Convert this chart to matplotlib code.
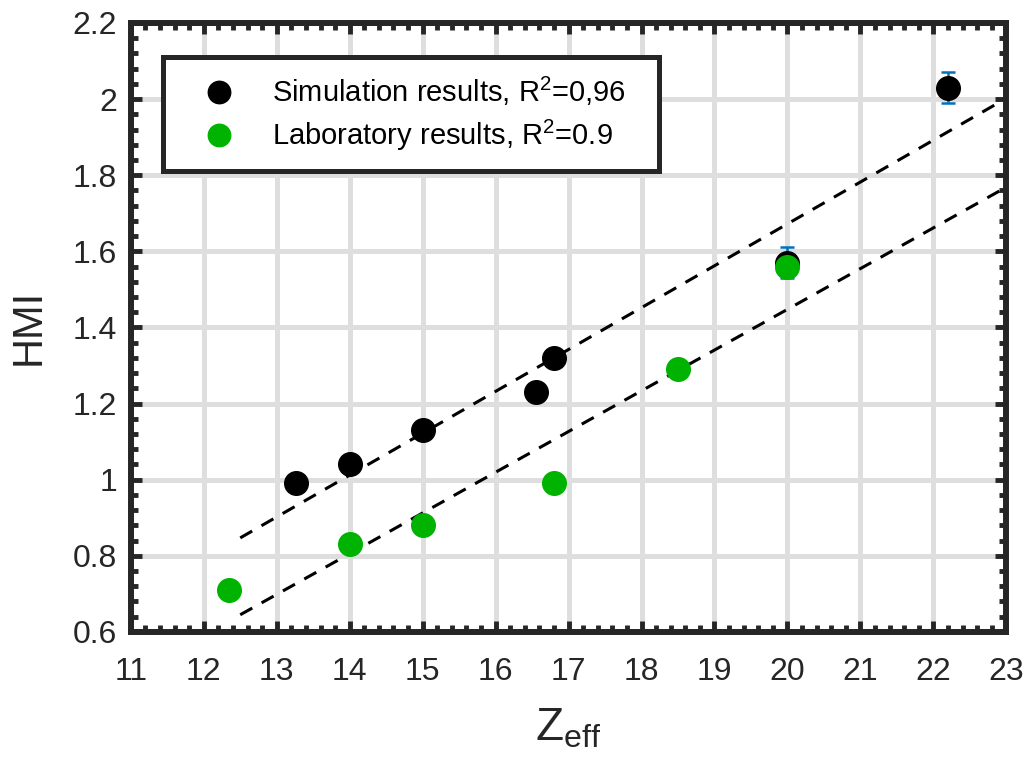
import numpy as np
import matplotlib
matplotlib.use('Agg')
import matplotlib.pyplot as plt

plt.rcParams['font.family'] = ['Liberation Sans', 'DejaVu Sans']
plt.rcParams['mathtext.fontset'] = 'custom'
plt.rcParams['mathtext.rm'] = 'Liberation Sans'
plt.rcParams['mathtext.it'] = 'Liberation Sans'

# data
sim_x   = [13.27, 14.0, 15.0, 16.55, 16.8, 20.0, 22.2]
sim_y   = [0.99, 1.04, 1.13, 1.23, 1.32, 1.57, 2.03]
sim_err = [0.0, 0.0, 0.0, 0.0, 0.0, 0.04, 0.04]

lab_x = [12.35, 14.0, 15.0, 16.8, 18.5, 20.0]
lab_y = [0.71, 0.83, 0.88, 0.99, 1.29, 1.56]

# linear fits (slope, intercept) and range
sim_fit = [0.110, -0.528]
lab_fit = [0.107, -0.6925]
fit_x   = [12.5, 23.0]

xticks = np.arange(11, 24, 1)
yticks = [0.6, 0.8, 1.0, 1.2, 1.4, 1.6, 1.8, 2.0, 2.2]
ylabels = ['0.6', '0.8', '1', '1.2', '1.4', '1.6', '1.8', '2', '2.2']

dark  = '#262626'
green = '#00b300'
blue  = '#0072bd'

fig = plt.figure(figsize=(10.3, 7.65), dpi=100)
ax = fig.add_axes([0.127, 0.174, 0.850, 0.796])

fx = np.array(fit_x)
ax.plot(fx, sim_fit[0]*fx + sim_fit[1], color='k', lw=2.2, ls=(0, (4.5, 3.5)), zorder=2)
ax.plot(fx, lab_fit[0]*fx + lab_fit[1], color='k', lw=2.2, ls=(0, (4.5, 3.5)), zorder=2)

ax.errorbar(sim_x, sim_y, yerr=sim_err, fmt='none', ecolor=blue, elinewidth=1.8,
            capsize=5, capthick=1.8, zorder=3)
ax.plot(sim_x, sim_y, 'o', color='k', ms=17, ls='none', zorder=4,
        label=r'Simulation results, R$^{2}$=0,96')
ax.plot(lab_x, lab_y, 'o', color=green, ms=17, ls='none', zorder=5,
        label=r'Laboratory results, R$^{2}$=0.9')

ax.set_xlim(11, 23)
ax.set_ylim(0.6, 2.2)
ax.set_xticks(xticks)
ax.set_yticks(yticks)
ax.set_yticklabels(ylabels)
ax.set_xticks(np.arange(11, 23.01, 0.2), minor=True)
ax.set_yticks(np.arange(0.6, 2.201, 0.04), minor=True)

ax.grid(True, which='major', color='#dedede', lw=3.6, zorder=0)
ax.set_axisbelow(True)

for s in ax.spines.values():
    s.set_linewidth(4.3)
    s.set_color(dark)
    s.set_zorder(6)

ax.tick_params(which='both', direction='in', top=True, right=True, colors=dark,
               labelsize=23, width=3.5)
ax.tick_params(which='major', length=8)
ax.tick_params(which='minor', length=5)
ax.tick_params(axis='x', which='major', pad=18)
ax.tick_params(axis='y', which='major', pad=10)

ax.set_xlabel(r'$\mathregular{Z_{eff}}$', fontsize=33, color=dark, labelpad=14)
ax.set_ylabel('HMI', fontsize=30, color=dark, labelpad=17)

leg = ax.legend(loc='upper left', bbox_to_anchor=(0.037, 0.05, 0.566, 0.894),
                mode='expand', borderaxespad=0,
                fontsize=21, frameon=True, fancybox=False, handletextpad=0.54,
                handlelength=2.6, borderpad=0.6, labelspacing=0.35, markerscale=0.95)
leg.get_frame().set_linewidth(3.6)
leg.get_frame().set_edgecolor(dark)
leg.get_frame().set_alpha(1)
leg.set_zorder(7)
for t in leg.get_texts():
    t.set_color('k')

plt.savefig('out.png', dpi=100)
